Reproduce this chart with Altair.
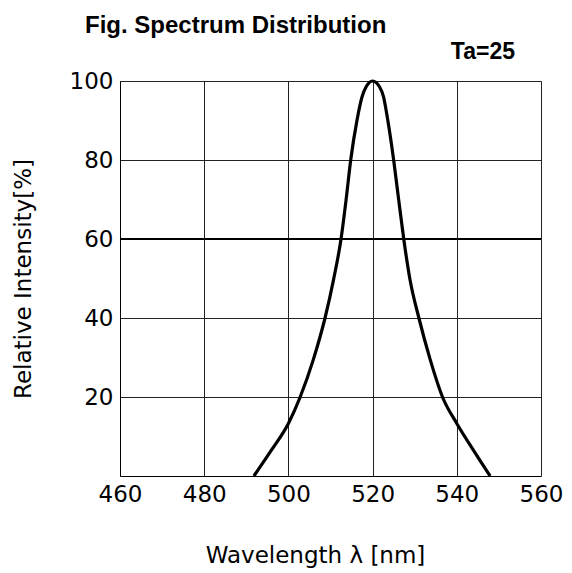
import altair as alt
import pandas as pd

wavelength = [491.8, 496.0, 500.0, 502.8, 505.9, 508.7, 510.7, 512.5, 513.7, 514.8,
              516.3, 517.5, 518.5, 520.0, 521.6, 522.6, 523.6, 525.0, 526.2, 527.4,
              528.9, 531.0, 533.7, 536.6, 540.0, 543.9, 547.9]
intensity = [0, 6.6, 13.3, 20, 29.4, 40, 49.6, 60, 69.9, 80,
             90.1, 96.0, 98.6, 100, 98.6, 96.0, 90.1, 80, 69.9, 60,
             49.6, 40, 29.4, 20, 13.3, 6.6, 0]
x_ticks = [460, 480, 500, 520, 540, 560]
y_ticks = [20, 40, 60, 80, 100]
ref_line = [60]

curve = pd.DataFrame({"wl": wavelength, "ri": intensity})
ref = pd.DataFrame({"y": ref_line})

FONT = "DejaVu Sans"

x_enc = alt.X("wl:Q", scale=alt.Scale(domain=[460, 560], nice=False),
              axis=alt.Axis(values=x_ticks, title="Wavelength  λ  [nm]",
                            grid=True, gridColor="#222", gridWidth=1,
                            tickSize=0, labelPadding=7, labelFontSize=23,
                            labelFont=FONT, labelColor="#000",
                            domainColor="#000", labelFlush=False,
                            titleFont=FONT, titleFontSize=23, titleFontWeight="normal",
                            titleColor="#000", titleX=195, titleY=86,
                            titleAlign="center", titleBaseline="alphabetic"))
y_enc = alt.Y("ri:Q", scale=alt.Scale(domain=[0, 100], nice=False),
              axis=alt.Axis(values=y_ticks, title="Relative Intensity[%]",
                            grid=True, gridColor="#222", gridWidth=1,
                            tickSize=0, labelPadding=7, labelFontSize=23,
                            labelFont=FONT, labelColor="#000",
                            domainColor="#000", labelFlush=False,
                            titleFont=FONT, titleFontSize=23, titleFontWeight="normal",
                            titleColor="#000", titleX=-97, titleY=197.5,
                            titleAlign="center", titleBaseline="middle", titleAngle=270))

line = alt.Chart(curve).mark_line(color="#000", strokeWidth=3.2, interpolate="monotone").encode(
    x=x_enc, y=y_enc)

rule = alt.Chart(ref).mark_rule(color="#000", strokeWidth=2).encode(y=alt.Y("y:Q"))

title_df = pd.DataFrame({"t": ["Fig. Spectrum Distribution"]})
title = alt.Chart(title_df).mark_text(font="Liberation Sans", fontSize=24, fontWeight="bold",
                                      align="left", baseline="alphabetic", color="#000").encode(
    text="t:N", x=alt.value(-35), y=alt.value(-48))

ta_df = pd.DataFrame({"t": ["Ta=25"]})
ta = alt.Chart(ta_df).mark_text(font="Liberation Sans", fontSize=23, fontWeight="bold",
                                align="right", baseline="alphabetic", color="#000").encode(
    text="t:N", x=alt.value(395), y=alt.value(-22))

chart = alt.layer(rule, line, title, ta).properties(
    width=421, height=395,
    autosize=alt.AutoSizeParams(type="none"),
    padding={"left": 112, "top": 73, "right": 23, "bottom": 95},
).configure_view(stroke="#000", strokeWidth=1).configure(background="white")

chart.save("out.html", embed_options={"renderer": "svg", "actions": False})
